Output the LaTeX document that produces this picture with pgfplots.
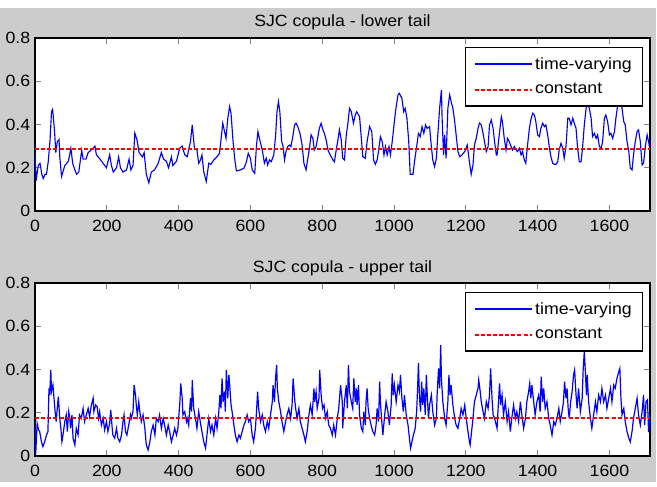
\documentclass[border=0pt]{standalone}
\usepackage{fontspec}
\setmainfont{Liberation Sans}[FakeStretch=1.09]
\usepackage{pgfplots}
\pgfplotsset{compat=1.18}
\newcommand\myfont{\fontsize{12.2}{14.6}\selectfont}
\definecolor{figgray}{RGB}{204,204,204}
\definecolor{tvblue}{RGB}{0,0,255}
\definecolor{cred}{RGB}{255,0,0}
\pgfplotsset{
  mystyle/.style={
    scale only axis, width=461.25pt, height=129.75pt, anchor=south west,
    xmin=0, xmax=1713, ymin=0, ymax=0.8,
    xtick={0,200,...,1600}, ytick={0,0.2,0.4,0.6,0.8},
    axis line style={line width=0.9pt},
    major tick length=4.5pt,
    tick style={line width=0.6pt},
    tick align=inside,
    /pgf/number format/assume math mode=true,
    /pgf/number format/1000 sep={},
    /pgf/number format/fixed,
    tick label style={font=\myfont},
    xticklabel style={anchor=base, yshift=-15.5pt},
    title style={font=\myfont, at={(0.5,1)}, anchor=base, yshift=2.25pt},
    axis background/.style={fill=white},
    legend style={at={(1,1)}, anchor=north east, xshift=-5.25pt, yshift=-6.75pt,
      draw, line width=0.9pt, fill=white, font=\myfont,
      cells={anchor=west}, inner xsep=6pt, inner ysep=5.5pt, row sep=5pt},
  },
  tvline/.style={color=tvblue,
    legend image code/.code={\draw[draw=tvblue, line width=1.5pt] (0pt,0pt) -- (42.75pt,0pt);}},
  constline/.style={color=cred, line width=1.3pt, dash pattern=on 3pt off 1.6pt,
    legend image code/.code={\draw[draw=cred, line width=1.3pt, dash pattern=on 3pt off 1.6pt] (0pt,0pt) -- (42.75pt,0pt);}},
}
\begin{document}
\begin{tikzpicture}
\useasboundingbox (0,0) rectangle (492.75pt,364.5pt);
\fill[figgray] (0,3pt) rectangle (492pt,358.5pt);
\begin{axis}[mystyle, at={(26.25pt,206.25pt)}, title={SJC copula - lower tail}]
\addplot[tvline, line width=0.85pt] coordinates {
(0,0.27)(3,0.14)(9,0.21)(14,0.22)(19,0.17)(23,0.15)(28,0.17)(32,0.17)(37,0.23)(42,0.33)(46,0.46)(49,0.47)(54,0.38)(58,0.27)(62,0.32)(67,0.33)(69,0.25)(74,0.16)(83,0.21)(93,0.23)(100,0.29)(105,0.22)(111,0.19)(116,0.17)(122,0.18)(130,0.28)(134,0.24)(142,0.24)(148,0.27)(162,0.29)(167,0.30)(171,0.26)(181,0.24)(190,0.22)(199,0.20)(208,0.26)(213,0.21)(218,0.18)(227,0.20)(233,0.25)(238,0.20)(245,0.18)(255,0.19)(262,0.24)(267,0.19)(273,0.21)(278,0.36)(284,0.33)(290,0.27)(299,0.25)(304,0.27)(310,0.17)(317,0.13)(324,0.18)(333,0.19)(343,0.22)(352,0.27)(358,0.24)(366,0.23)(372,0.20)(380,0.25)(384,0.21)(394,0.23)(403,0.29)(410,0.30)(417,0.26)
(424,0.251)(433,0.321)(438,0.398)(444,0.290)(451,0.282)(456,0.221)(461,0.236)(465,0.259)(470,0.182)(477,0.136)(484,0.221)(490,0.216)(498,0.236)(507,0.251)(514,0.267)(519,0.344)(523,0.406)(528,0.367)(532,0.336)(537,0.429)(542,0.483)(546,0.452)(551,0.336)(556,0.244)(561,0.185)(572,0.190)(582,0.198)(589,0.228)(594,0.267)(600,0.244)(605,0.190)(612,0.174)(617,0.305)(621,0.367)(626,0.329)(633,0.282)(639,0.221)(644,0.244)(648,0.213)(653,0.236)(658,0.228)(665,0.259)(670,0.344)(674,0.459)(678,0.506)(682,0.459)(687,0.321)(691,0.298)(695,0.236)(699,0.275)(704,0.298)(709,0.305)(713,0.298)(718,0.344)(723,0.398)(727,0.406)(732,0.390)(738,0.359)(744,0.305)(749,0.221)(755,0.190)(760,0.244)(765,0.298)(769,0.352)(774,0.336)(778,0.282)(783,0.298)(788,0.344)(792,0.382)(797,0.406)(802,0.375)(806,0.359)(811,0.329)(816,0.282)(820,0.267)(825,0.251)(830,0.236)(834,0.228)(839,0.282)(843,0.321)(848,0.375)(853,0.330)
(857,0.244)(862,0.236)(867,0.352)(871,0.398)(876,0.475)(881,0.459)(887,0.406)(892,0.444)(896,0.459)(904,0.436)(909,0.336)(913,0.251)(920,0.244)(925,0.321)(932,0.390)(938,0.367)(943,0.236)(948,0.216)(953,0.236)(958,0.290)(962,0.344)(967,0.321)(972,0.259)(976,0.298)(981,0.259)(986,0.298)(990,0.259)(995,0.321)(1000,0.398)(1004,0.459)(1011,0.537)(1015,0.544)(1022,0.521)(1027,0.459)(1031,0.475)(1036,0.429)(1041,0.321)(1045,0.170)(1053,0.170)(1057,0.228)(1065,0.321)(1068,0.359)(1073,0.344)(1078,0.390)(1083,0.359)(1088,0.398)(1092,0.382)(1099,0.390)(1104,0.298)(1108,0.236)(1113,0.205)(1118,0.244)(1122,0.352)(1127,0.475)(1132,0.560)(1134,0.429)(1138,0.259)(1141,0.352)(1145,0.244)(1150,0.475)(1155,0.537)(1159,0.506)(1164,0.475)(1169,0.413)(1173,0.352)(1178,0.275)(1183,0.251)(1189,0.259)(1197,0.275)(1204,0.305)(1210,0.228)(1215,0.170)(1220,0.213)(1224,0.305)(1229,0.336)(1234,0.382)(1238,0.406)(1243,0.398)(1248,0.359)(1252,0.321)(1257,0.275)(1262,0.298)(1266,0.398)(1271,0.421)(1276,0.382)(1280,0.321)(1285,0.259)
(1287,0.259)(1293,0.352)(1299,0.436)(1302,0.413)(1307,0.336)(1312,0.282)(1316,0.336)(1321,0.321)(1326,0.298)(1330,0.282)(1335,0.298)(1340,0.282)(1344,0.275)(1349,0.290)(1354,0.259)(1358,0.275)(1363,0.236)(1367,0.221)(1372,0.305)(1377,0.382)(1381,0.421)(1386,0.452)(1391,0.444)(1395,0.413)(1400,0.352)(1405,0.344)(1409,0.382)(1414,0.406)(1419,0.390)(1423,0.398)(1428,0.352)(1433,0.290)(1437,0.251)(1442,0.221)(1446,0.216)(1451,0.216)(1456,0.228)(1460,0.282)(1465,0.313)(1470,0.290)(1474,0.244)(1479,0.298)(1484,0.429)(1488,0.429)(1493,0.398)(1498,0.429)(1502,0.406)(1507,0.382)(1511,0.298)(1516,0.228)(1521,0.228)(1525,0.290)(1530,0.398)(1535,0.475)(1539,0.498)(1544,0.475)(1549,0.429)(1553,0.344)(1558,0.359)(1563,0.336)(1567,0.352)(1572,0.298)(1577,0.290)(1581,0.321)(1586,0.429)(1590,0.444)(1595,0.413)(1600,0.352)(1604,0.359)(1609,0.336)(1614,0.367)(1618,0.429)(1623,0.490)(1628,0.552)(1632,0.580)(1635,0.475)(1640,0.413)(1644,0.398)(1649,0.321)(1654,0.275)(1658,0.198)(1663,0.190)(1667,0.259)(1672,0.321)(1677,0.367)(1681,0.375)(1686,0.321)(1691,0.213)(1695,0.221)(1700,0.298)(1705,0.352)(1709,0.321)(1713,0.282)
};
\addplot[constline] coordinates {(0,0.286)(1713,0.286)};
\legend{time-varying, constant}
\end{axis}
\begin{axis}[mystyle, at={(26.25pt,22.5pt)}, title={SJC copula - upper tail}]
\addplot[tvline, line width=0.9pt] coordinates {
(0,0.160)(2,0.010)(6,0.150)(10,0.120)(13,0.113)(18,0.066)(22,0.043)(27,0.066)(32,0.097)(36,0.113)(39,0.313)(41,0.282)(44,0.398)(46,0.298)(50,0.328)(53,0.267)(56,0.205)(59,0.159)(62,0.220)(65,0.274)(69,0.174)(72,0.128)(75,0.066)(78,0.097)(83,0.159)(87,0.190)(90,0.113)(94,0.205)(97,0.174)(99,0.128)(103,0.190)(106,0.082)(111,0.051)(115,0.128)(120,0.097)(124,0.190)(129,0.174)(134,0.220)(138,0.159)(143,0.190)(148,0.220)(152,0.182)(157,0.236)(162,0.267)(164,0.205)(169,0.236)(173,0.228)(177,0.174)(180,0.205)(185,0.143)(190,0.174)(194,0.120)(199,0.159)(203,0.113)(208,0.151)(211,0.213)(215,0.128)(217,0.097)(222,0.082)(227,0.128)(231,0.082)(236,0.066)(241,0.097)(245,0.159)(248,0.190)(252,0.113)(256,0.097)(261,0.143)(266,0.190)(268,0.174)(273,0.205)(276,0.328)(280,0.282)(282,0.236)(285,0.190)(289,0.251)(292,0.205)(296,0.159)(301,0.190)(306,0.128)(310,0.051)(315,0.028)(320,0.066)(324,0.113)(329,0.143)(334,0.097)(338,0.174)(343,0.159)(347,0.190)(352,0.128)(357,0.174)(361,0.143)(366,0.097)(371,0.143)(375,0.113)(380,0.066)(385,0.097)(389,0.128)(394,0.097)(398,0.128)(403,0.236)(406,0.336)(410,0.267)(412,0.190)(417,0.205)(422,0.159)
(424,0.174)(428,0.143)(433,0.267)(436,0.205)(438,0.351)(442,0.220)(447,0.174)(451,0.128)(456,0.205)(461,0.151)(465,0.113)(470,0.066)(475,0.036)(479,0.097)(484,0.174)(489,0.113)(493,0.143)(498,0.097)(503,0.174)(507,0.128)(512,0.205)(515,0.282)(518,0.220)(521,0.359)(524,0.251)(528,0.298)(530,0.205)(533,0.398)(537,0.267)(540,0.375)(543,0.313)(546,0.236)(549,0.205)(554,0.143)(558,0.097)(563,0.066)(568,0.097)(572,0.082)(577,0.113)(582,0.143)(586,0.159)(591,0.190)(595,0.159)(600,0.174)(605,0.097)(609,0.066)(614,0.128)(617,0.205)(620,0.298)(623,0.220)(628,0.159)(633,0.190)(637,0.143)(642,0.113)(647,0.159)(651,0.128)(656,0.190)(661,0.251)(663,0.328)(667,0.251)(670,0.359)(673,0.421)(675,0.313)(679,0.251)(684,0.205)(688,0.159)(693,0.113)(698,0.159)(702,0.190)(707,0.220)(712,0.174)(716,0.236)(719,0.359)(723,0.267)(726,0.220)(730,0.174)(735,0.220)(739,0.159)(744,0.128)(749,0.097)(753,0.066)(758,0.113)(763,0.190)(767,0.236)(772,0.190)(777,0.313)(779,0.251)(783,0.298)(786,0.220)(791,0.267)(793,0.398)(797,0.282)(801,0.220)(805,0.236)(809,0.174)(814,0.205)(818,0.143)(823,0.128)(828,0.097)(832,0.143)(837,0.097)(842,0.174)(846,0.220)(851,0.328)(856,0.251)
(857,0.128)(862,0.251)(867,0.328)(870,0.220)(873,0.421)(876,0.298)(881,0.251)(885,0.220)(888,0.359)(892,0.251)(895,0.313)(897,0.236)(901,0.328)(904,0.190)(909,0.128)(913,0.113)(916,0.205)(920,0.143)(922,0.251)(925,0.313)(928,0.220)(932,0.174)(936,0.143)(941,0.113)(946,0.097)(950,0.143)(953,0.220)(957,0.159)(960,0.344)(962,0.251)(966,0.159)(969,0.097)(974,0.190)(978,0.251)(983,0.205)(987,0.143)(992,0.236)(995,0.382)(998,0.282)(1001,0.328)(1006,0.251)(1011,0.328)(1015,0.298)(1018,0.375)(1022,0.267)(1026,0.205)(1029,0.282)(1034,0.190)(1039,0.143)(1043,0.082)(1046,0.036)(1050,0.066)(1054,0.097)(1059,0.128)(1063,0.205)(1066,0.328)(1068,0.429)(1071,0.267)(1074,0.205)(1077,0.344)(1080,0.236)(1083,0.313)(1087,0.190)(1090,0.375)(1093,0.267)(1096,0.174)(1099,0.236)(1104,0.282)(1108,0.205)(1113,0.143)(1118,0.174)(1120,0.282)(1124,0.405)(1127,0.313)(1130,0.513)(1132,0.359)(1136,0.251)(1141,0.174)(1145,0.143)(1150,0.251)(1153,0.375)(1156,0.282)(1159,0.328)(1164,0.236)(1169,0.174)(1173,0.143)(1178,0.128)(1183,0.174)(1187,0.220)(1192,0.190)(1197,0.236)(1201,0.174)(1206,0.113)(1210,0.066)(1212,0.051)(1216,0.113)(1220,0.174)(1224,0.251)(1229,0.282)(1234,0.313)(1236,0.351)(1240,0.298)(1243,0.251)(1248,0.205)(1252,0.174)(1257,0.251)(1262,0.220)(1266,0.282)(1269,0.405)(1273,0.267)(1276,0.190)(1280,0.174)
(1287,0.128)(1291,0.251)(1294,0.336)(1297,0.236)(1301,0.282)(1305,0.190)(1310,0.251)(1315,0.159)(1319,0.205)(1324,0.113)(1328,0.174)(1333,0.236)(1338,0.174)(1342,0.205)(1347,0.159)(1352,0.251)(1356,0.190)(1361,0.128)(1366,0.174)(1370,0.251)(1375,0.298)(1378,0.336)(1381,0.267)(1384,0.328)(1389,0.251)(1393,0.190)(1398,0.251)(1403,0.282)(1407,0.205)(1410,0.367)(1414,0.251)(1417,0.313)(1421,0.220)(1426,0.251)(1431,0.174)(1435,0.143)(1440,0.097)(1445,0.159)(1449,0.143)(1454,0.174)(1459,0.220)(1463,0.159)(1468,0.205)(1472,0.251)(1475,0.344)(1479,0.267)(1482,0.313)(1485,0.220)(1488,0.174)(1492,0.251)(1496,0.298)(1500,0.375)(1503,0.398)(1507,0.282)(1510,0.220)(1514,0.313)(1519,0.205)(1524,0.267)(1527,0.405)(1530,0.482)(1533,0.390)(1536,0.282)(1538,0.375)(1542,0.251)(1547,0.174)(1551,0.128)(1556,0.190)(1561,0.251)(1565,0.205)(1570,0.282)(1575,0.251)(1579,0.313)(1584,0.251)(1589,0.282)(1593,0.220)(1598,0.267)(1603,0.313)(1607,0.251)(1612,0.328)(1616,0.313)(1621,0.359)(1626,0.390)(1629,0.405)(1632,0.267)(1635,0.190)(1640,0.220)(1644,0.159)(1649,0.113)(1654,0.082)(1658,0.066)(1663,0.113)(1667,0.174)(1672,0.220)(1677,0.267)(1681,0.190)(1686,0.143)(1691,0.205)(1695,0.282)(1698,0.143)(1702,0.251)(1706,0.260)(1709,0.110)(1713,0.190)
};
\addplot[constline] coordinates {(0,0.176)(1713,0.176)};
\legend{time-varying, constant}
\end{axis}
\end{tikzpicture}
\end{document}
